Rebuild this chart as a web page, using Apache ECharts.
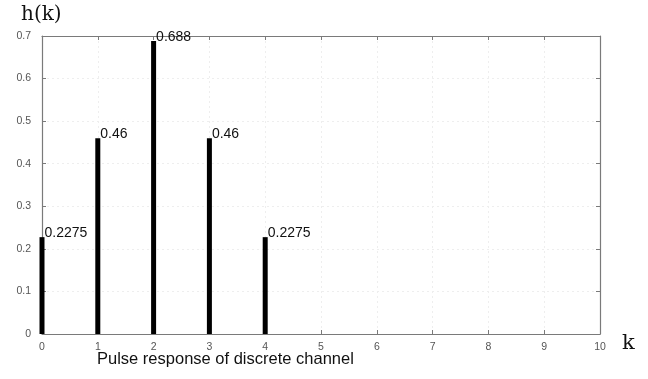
<!DOCTYPE html>
<html>
<head>
<meta charset="utf-8">
<script src="https://cdn.jsdelivr.net/npm/echarts@6/dist/echarts.min.js"></script>
<style>
  html, body { margin: 0; padding: 0; background: #fff; }
  #chart { width: 648px; height: 379px; }
</style>
</head>
<body>
<div id="chart"></div>
<script>
// Discrete channel pulse response samples
const kValues = [0, 1, 2, 3, 4];
const hValues = [0.2275, 0.46, 0.688, 0.46, 0.2275];
const xTicks = [0, 1, 2, 3, 4, 5, 6, 7, 8, 9, 10];
const yTicks = [0, 0.1, 0.2, 0.3, 0.4, 0.5, 0.6, 0.7];

const stems = kValues.map((k, i) => [k, hValues[i]]);

const axisGray = '#7a7a7a';
const tickFont = { fontFamily: 'Liberation Sans', fontSize: 10.5, color: '#555' };
const gridLine = { show: true, lineStyle: { color: '#eeeeee', type: [2, 3], width: 1 } };

const chart = echarts.init(document.getElementById('chart'), null, { renderer: 'canvas' });

const baseX = {
  type: 'value', min: xTicks[0], max: xTicks[xTicks.length - 1], interval: 1,
  axisLine: { show: true, onZero: false, lineStyle: { color: axisGray, width: 1.2 } },
  axisTick: { show: true, inside: true, length: 4, lineStyle: { color: axisGray } }
};
const baseY = {
  type: 'value', min: yTicks[0], max: yTicks[yTicks.length - 1], interval: 0.1,
  axisLine: { show: true, onZero: false, lineStyle: { color: axisGray, width: 1.2 } },
  axisTick: { show: true, inside: true, length: 4, lineStyle: { color: axisGray } }
};

chart.setOption({
  animation: false,
  backgroundColor: '#fff',
  title: {
    text: 'Pulse response of discrete channel',
    left: 92, top: 346,
    textStyle: { fontFamily: 'Liberation Sans', fontSize: 16.5, fontWeight: 'normal', color: '#111' }
  },
  graphic: [
    { type: 'text', left: 21, top: 5,
      style: { text: 'h(k)', font: '20px "DejaVu Serif"', fill: '#111' } },
    { type: 'text', left: 622, top: 333,
      style: { text: 'k', font: '21px "DejaVu Serif"', fill: '#111' } }
  ],
  grid: { left: 42, right: 48, top: 36, bottom: 45 },
  xAxis: [
    Object.assign({}, baseX, {
      position: 'bottom',
      axisLabel: Object.assign({ margin: 8 }, tickFont),
      splitLine: gridLine
    }),
    Object.assign({}, baseX, {
      position: 'top', axisLabel: { show: false }, splitLine: { show: false }
    })
  ],
  yAxis: [
    Object.assign({}, baseY, {
      position: 'left',
      axisLabel: Object.assign({ margin: 11, formatter: v => (v === 0 ? '0' : v.toFixed(1)) }, tickFont),
      splitLine: gridLine
    }),
    Object.assign({}, baseY, {
      position: 'right', axisLabel: { show: false }, splitLine: { show: false }
    })
  ],
  series: [{
    type: 'bar',
    data: stems,
    barWidth: 5,
    clip: true,
    itemStyle: { color: '#000' },
    label: {
      show: true,
      position: ['100%', 0],
      verticalAlign: 'middle',
      offset: [0, -4],
      formatter: p => String(p.value[1]),
      fontFamily: 'Liberation Sans',
      fontSize: 14,
      color: '#111'
    }
  }]
});
</script>
</body>
</html>
